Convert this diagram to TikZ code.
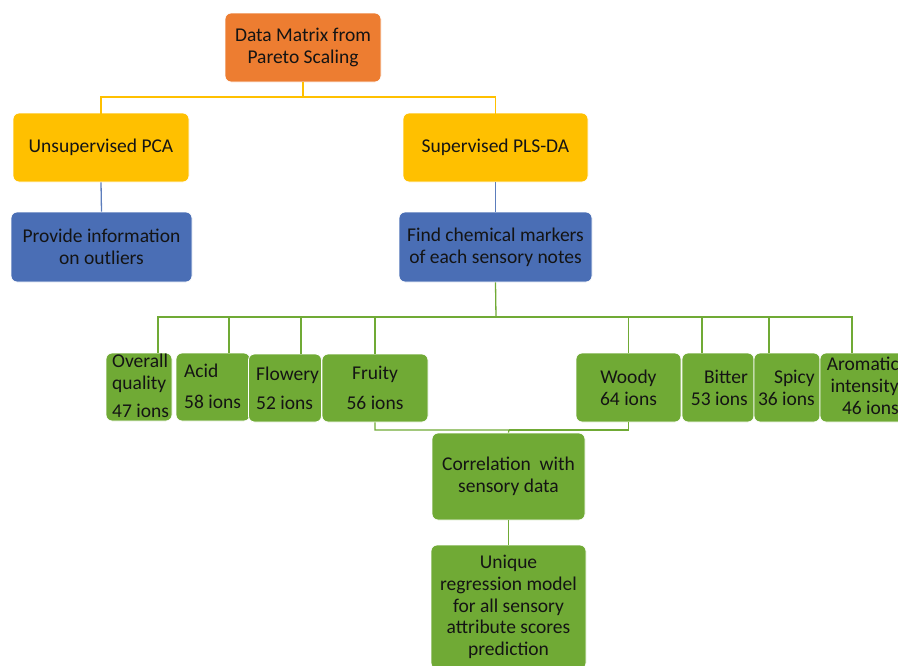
\documentclass[tikz,border=0pt]{standalone}
\usepackage{fontspec}
\setmainfont{Carlito}
\definecolor{corange}{HTML}{ED7D31}
\definecolor{cgold}{HTML}{FFC000}
\definecolor{cblue}{HTML}{4A6EB5}
\definecolor{cgreen}{HTML}{70AA35}
\definecolor{ctext}{HTML}{141414}
\begin{document}
\begin{tikzpicture}[x=1pt,y=-1pt,
  txt/.style={text=ctext,font=\fontsize{19.5}{21.8}\selectfont,inner sep=0pt},
  box/.style={txt,draw=white,line width=0.8pt,rounded corners=6pt,align=center,inner sep=2pt},
  obox/.style={box,fill=corange},
  ybox/.style={box,fill=cgold},
  bbox/.style={box,fill=cblue},
  gbox/.style={box,fill=cgreen},
  yl/.style={draw=cgold,line width=1.3pt},
  bl/.style={draw=cblue!90,line width=1.3pt},
  gl/.style={draw=cgreen,line width=1.3pt}]
\useasboundingbox (0,0) rectangle (898,665);
% top levels
\node[obox,minimum width=156,minimum height=69] (dm) at (303,47.5) {Data Matrix from\\Pareto Scaling};
\node[ybox,minimum width=176,minimum height=69] (pca) at (101,147.5) {Unsupervised PCA};
\node[ybox,minimum width=185,minimum height=69] (pls) at (495.5,147.5) {Supervised PLS-DA};
\node[bbox,minimum width=181,minimum height=70] (prov) at (101.5,247) {Provide information\\on outliers};
\node[bbox,minimum width=193,minimum height=70] (find) at (495.5,247) {Find chemical markers\\of each sensory notes};
% leaves
\node[gbox,minimum width=66,minimum height=68] (ov) at (139,387) {};
\node[txt,align=left,anchor=west] (ovT) at (112,386) {Overall\\quality\\[6pt]47 ions};
\node[gbox,minimum width=74,minimum height=68] (acid) at (213,387) {};
\node[txt,align=left,anchor=west] (acidT) at (184,386.5) {Acid\\[9pt]58 ions};
\node[gbox,minimum width=73,minimum height=68] (flow) at (285,388) {};
\node[txt,align=left,anchor=west] (flowT) at (256,388.5) {Flowery\\[7pt]52 ions};
\node[gbox,minimum height=68,minimum width=106] (fruit) at (375,388) {Fruity\\[8pt]56 ions};
\node[gbox,minimum height=69,minimum width=105] (woody) at (628.5,387.5) {Woody\\64 ions};
\node[gbox,minimum width=72,minimum height=69] (bitter) at (718,387.5) {};
\node[txt,align=right,anchor=east] (bitterT) at (748,387.5) {Bitter\\53 ions};
\node[gbox,minimum width=66,minimum height=69] (spicy) at (787,387.5) {};
\node[txt,align=right,anchor=east] (spicyT) at (815,387.5) {Spicy\\36 ions};
\node[gbox,minimum width=86,minimum height=69] (arom) at (863,387.5) {};
\node[txt,align=right,anchor=east] (aromT) at (899,386) {Aromatic\\intensity\\46 ions};
% bottom
\node[gbox,minimum width=153,minimum height=87] (corr) at (508.5,476.5) {Correlation\ \ with\\sensory data};
\node[gbox,minimum width=155,minimum height=124] (uniq) at (508.5,607) {Unique\\regression model\\for all sensory\\attribute scores\\prediction};
% connectors
\coordinate (j1) at (303,97);
\coordinate (j3) at (496,317);
\coordinate (j4) at (509,430);
\draw[yl] (dm.south) -- (j1) -| ([yshift=-3]pca.north);
\draw[yl] (j1) -| ([yshift=-3]pls.north);
\draw[bl] (pca.south) -- (prov.north);
\draw[bl] (pls.south) -- (find.north);
\draw[gl] (find.south) -- (j3);
\draw[gl] (j3) -| ([xshift=19]ov.north);
\draw[gl] (j3) -| ([xshift=16]acid.north);
\draw[gl] (j3) -| ([xshift=16]flow.north);
\draw[gl] (j3) -| (fruit.north);
\draw[gl] (j3) -| (woody.north);
\draw[gl] (j3) -| ([xshift=-16]bitter.north);
\draw[gl] (j3) -| ([xshift=-18]spicy.north);
\draw[gl] (j3) -| ([xshift=-11]arom.north);
\draw[gl] (fruit.south) |- (j4) -- (corr.north);
\draw[gl] (woody.south) |- (j4);
\draw[gl] (corr.south) -- (uniq.north);
\end{tikzpicture}
\end{document}
